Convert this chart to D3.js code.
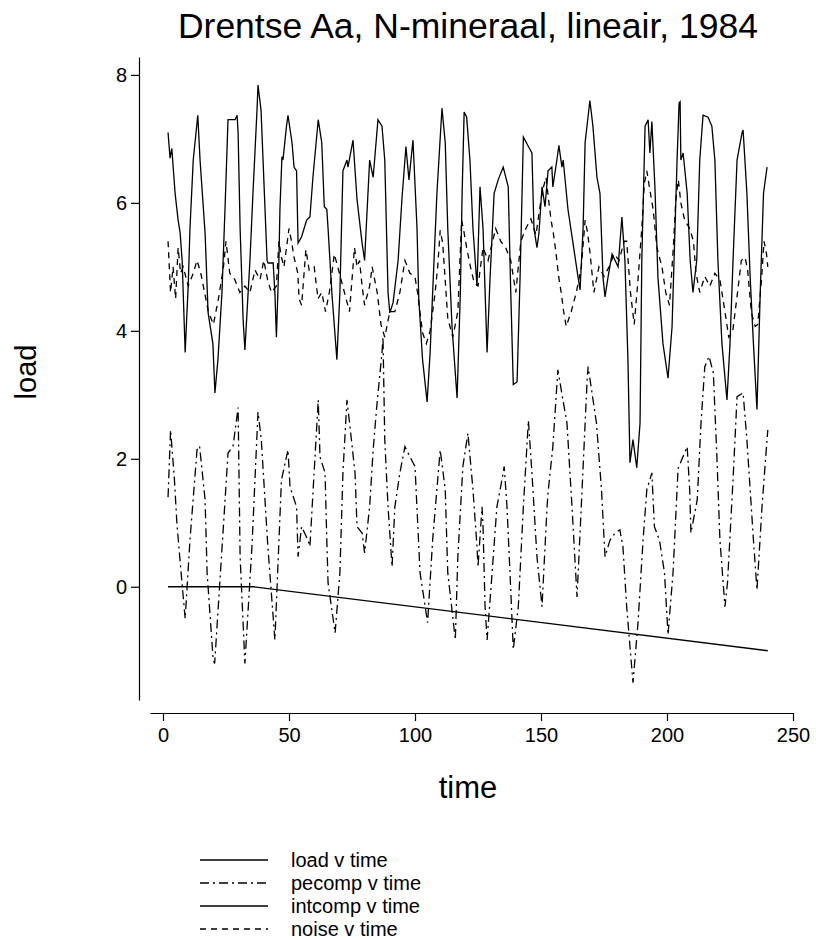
<!DOCTYPE html>
<html>
<head>
<meta charset="utf-8">
<script src="https://cdn.jsdelivr.net/npm/d3@7"></script>
<style>
    body { margin: 0; background: #fff; }
    svg { display: block; font-family: "Liberation Sans", Arial, sans-serif; }
    .axis path, .axis line { stroke: #000; stroke-width: 1.2; }
    .axis text { font-size: 20px; fill: #000; }
</style>
</head>
<body>
<div id="chart"></div>
<script>
// values
var timeTicks = [0, 50, 100, 150, 200, 250];
var loadTicks = [0, 2, 4, 6, 8];
var seriesNames = ['load v time', 'pecomp v time', 'intcomp v time', 'noise v time'];

var loadSeries = [[2,7.1],[2.8,6.7],[3.5,6.85],[4.8,6.15],[6,5.73],[6.8,5.53],[7.6,5.1],[8.8,3.66],[9.5,4.28],[10,4.7],[10.7,5.6],[12,6.67],[13.8,7.37],[14.7,6.67],[16.7,5.53],[17.9,4.28],[19.8,3.8],[20.6,3.03],[21.8,3.55],[23.4,4.6],[24.6,5.9],[25.8,7.3],[28.6,7.3],[29.4,7.37],[29.8,7.1],[30.6,5.6],[31.8,4.17],[32.5,3.7],[34.5,5.1],[35.7,6.15],[37.3,7.45],[37.7,7.84],[38.9,7.45],[39.7,6.67],[41.3,5.1],[41.7,5.06],[43.7,5.06],[44.4,4.6],[45,3.9],[46,5.1],[46.4,5.9],[47.2,6.72],[47.6,6.67],[49,7.2],[49.6,7.37],[51.2,6.94],[52,6.56],[53,6.5],[53.6,5.37],[55,5.47],[57,5.73],[58.3,5.78],[59.5,6.4],[61.6,7.3],[63,6.94],[64,5.94],[65,5.9],[65.5,5.6],[67,4.6],[69,3.55],[70.2,4.6],[71.4,6.5],[73,6.67],[73.4,6.56],[75.4,6.98],[77,6.05],[79,5.37],[80,5.1],[82,6.67],[83.4,6.4],[85.3,7.3],[86.9,7.2],[88,6.67],[89.3,4.6],[90,4.28],[91.3,4.44],[93.3,5.1],[94.8,6.05],[96.4,6.88],[97.6,6.36],[99.2,6.98],[100.8,5.6],[101.5,4.5],[103,3.55],[104.8,2.89],[106,3.66],[107,4.6],[108.7,6.15],[110.7,7.48],[112,6.94],[113,5.6],[114.7,4.06],[116.7,2.95],[118,4.6],[118.7,6.15],[119.5,7.42],[120.5,7.34],[121.8,6.67],[123,5.6],[124.6,4.7],[125.8,6.25],[127,5.6],[128.6,3.66],[129.8,4.84],[131.4,6.15],[133,6.36],[135,6.56],[137,6.25],[138,4.6],[139,3.16],[140.5,3.2],[141.7,4.84],[143,7.03],[145,6.88],[146.4,6.78],[147.2,5.6],[148.4,5.3],[149.2,5.53],[150.4,6.25],[151.6,5.94],[152.8,6.5],[154.3,6.56],[154.7,6.25],[156.3,6.67],[157.1,6.9],[158.3,6.56],[158.8,6.67],[160.7,5.9],[162.7,5.37],[164.7,4.84],[165.5,4.64],[166.7,5.6],[167.5,6.94],[169.4,7.6],[170.6,7.2],[172.2,6.4],[173.4,6.15],[174.6,4.84],[175.4,4.53],[176.6,4.84],[178.2,5.2],[179.4,5.1],[180.6,5.0],[182.1,5.78],[183.3,5.1],[184.5,3.55],[185.3,1.94],[186.5,2.3],[188,1.86],[189.3,2.56],[190,5.1],[191.3,7.2],[192.5,7.3],[193.2,6.78],[194,7.27],[195.2,6.25],[196.4,4.84],[198.4,3.8],[200.4,3.26],[202,4.06],[204,6.67],[204.8,7.56],[205.2,7.58],[205.5,6.67],[206.4,6.78],[208,6.15],[209.2,5.1],[210.3,4.6],[211.8,5.1],[213,6.67],[214.3,7.37],[216.3,7.34],[217.8,7.2],[219,6.67],[220.2,5.1],[221.8,3.8],[223.8,2.92],[225,3.8],[226.2,5.1],[227.8,6.67],[229.8,7.1],[230.2,7.14],[231.7,6.15],[233,4.84],[234.3,3.8],[235.7,2.77],[237,4.6],[238.3,6.15],[239.7,6.56]];

var pecompSeries = [[2,1.4],[3,2.45],[4.5,1.7],[5.5,1.0],[7,0.3],[8.8,-0.5],[10.7,0.73],[13.5,2.14],[14.5,2.2],[16.7,1.36],[17.5,0.22],[19.9,-1.14],[20.5,-1.2],[23.8,0.84],[25.8,2.09],[27.8,2.2],[29.8,2.8],[30.6,0.47],[32.5,-1.2],[35.3,0.63],[37.7,2.73],[39,2.3],[41.6,0.63],[44.4,-0.83],[47,1.67],[49.6,2.14],[50.4,1.56],[53,1.25],[53.6,0.47],[55,0.94],[57.5,0.73],[58.3,0.63],[61.6,2.92],[62.3,2.03],[64.3,1.78],[65,0.73],[65.5,0.06],[68.3,-0.72],[70.2,0.22],[71.4,1.78],[73,2.92],[74.2,2.5],[76.2,1.78],[77,0.94],[79,0.84],[80,0.53],[82,1.25],[83.4,2.14],[84.8,2.81],[86.9,3.66],[87.3,3.9],[88,2.3],[89.3,1.25],[90.9,0.31],[92,1.25],[94,1.78],[96,2.19],[98,2.03],[100,1.88],[102,0.22],[105,-0.56],[107,0.73],[110,2.14],[112,1.52],[113,0.22],[116,-0.83],[117,0.47],[119,1.88],[121,2.4],[123,1.52],[124.6,0.63],[125,0.31],[126.6,1.25],[127,0.94],[127.8,-0.31],[128.6,-0.83],[130.6,0.22],[132.5,1.25],[134.5,1.67],[135.4,1.88],[136.5,1.25],[137.7,0.22],[139,-0.98],[141,-0.31],[143,1.25],[145,2.6],[146.4,1.78],[148.4,0.47],[150.4,-0.31],[152.4,1.25],[152.8,1.47],[154.7,2.19],[156.7,3.39],[158.7,2.92],[160.3,2.56],[162.3,1.25],[164.3,-0.16],[166.3,1.52],[168.3,3.23],[168.7,3.44],[172,2.56],[174,1.52],[175.4,0.47],[177.4,0.73],[179.4,0.84],[181.3,0.89],[182.5,0.63],[184,-0.31],[186.5,-1.5],[188.5,-0.56],[190.5,0.73],[192,1.52],[194,1.78],[195,0.94],[197,0.73],[199,0.22],[200.4,-0.75],[202.4,0.22],[204.4,1.85],[206,2.0],[208,2.19],[209,1.52],[209.5,0.84],[212,1.36],[213.5,2.56],[215,3.44],[216.7,3.6],[218.4,3.34],[219.8,2.03],[221,0.73],[223,-0.31],[224,0.06],[226.2,1.67],[227.8,2.97],[230.2,3.03],[231.7,2.3],[233,1.52],[234.3,0.73],[235.7,-0.05],[237.7,1.25],[239,1.94],[240,2.45]];

var intcompSeries = [[2,0],[36,0],[240,-1.0]];

var noiseSeries = [[2,5.4],[3,4.6],[4,5.0],[5,4.5],[6,5.3],[7,4.9],[8,5.0],[10,4.7],[12,4.9],[13.5,5.1],[15,4.9],[16.5,4.6],[18,4.3],[20,4.1],[22,4.5],[24,5.0],[25,5.4],[26.5,4.9],[28.5,4.8],[30.5,4.6],[32.5,4.7],[34.5,4.6],[36.5,4.95],[38.5,4.8],[40,5.1],[41.5,4.8],[43,4.6],[45,4.7],[46,5.4],[47,5.15],[48,5.0],[50,5.6],[51,5.4],[52,5.15],[53.5,4.9],[54,4.5],[55,4.4],[56.7,5.27],[58,4.95],[60,5.0],[61.5,4.5],[63,4.6],[64.5,4.3],[66,4.6],[68,5.2],[70,4.9],[72,4.6],[74,4.3],[76,5.3],[77,5.0],[78,5.1],[79,4.7],[80,4.4],[82,4.7],[83,5.0],[85,4.6],[86.5,4.1],[88,3.9],[90,4.3],[92,4.3],[94,4.6],[96,5.1],[98,4.9],[100,4.84],[101,4.6],[103,3.97],[104.5,3.8],[106,4.0],[108,4.6],[109,5.0],[110,5.57],[111,5.37],[113,4.2],[115,3.9],[117,4.3],[118.5,5.73],[119.5,5.53],[120.5,5.3],[122,5.0],[123.5,4.75],[125,4.7],[127,5.3],[129,5.1],[132,5.6],[134,5.4],[136,5.3],[138,5.1],[140,4.6],[142,5.4],[144,5.6],[146,5.75],[148,5.5],[150,6.05],[151,6.25],[152,6.4],[153,6.05],[154,5.73],[155,5.5],[156,5.2],[157,4.85],[158,4.6],[159,4.3],[160,4.07],[162,4.3],[164,4.6],[166,5.0],[167.5,5.73],[168.5,5.53],[169.5,5.2],[171,4.6],[173,5.0],[175,4.85],[177,5.0],[179,5.2],[181,5.1],[183,5.4],[184,5.4],[185.5,4.6],[187,4.1],[188.5,4.8],[190,5.6],[191,6.3],[192,6.5],[193,6.25],[194.5,5.9],[196,5.3],[198,5.0],[199.5,4.6],[201,4.4],[202.5,5.3],[203.5,6.05],[204.5,6.36],[205.5,6.0],[207,5.73],[209,5.6],[210.5,5.4],[211.5,4.9],[213,4.6],[215,4.85],[217,4.7],[219,4.9],[221,4.8],[223,4.3],[224.5,3.9],[226,3.97],[228,4.6],[229.5,5.1],[231,5.15],[232,4.95],[233.5,4.28],[235,4.07],[236,4.1],[237.5,4.8],[238.5,5.4],[239.5,5.2],[240,5.0]];

(function(d3) {
    'use strict';

    var settings = {
        width: 816,
        height: 940,
        xRange: [150, 793],
        yRange: [700, 57],
        xAxisY: 713,
        yAxisX: 139,
        legend: { x1: 200, x2: 268, textX: 291, top: 860, step: 23 }
    };

    var styles = [
        { dash: null },
        { dash: '9,4,2,4' },
        { dash: null },
        { dash: '6,5' }
    ];
    var allSeries = [loadSeries, pecompSeries, intcompSeries, noiseSeries];

    var x = d3.scaleLinear().domain([-5.16, 250]).range(settings.xRange);
    var y = d3.scaleLinear().domain([-1.77, 8.28]).range(settings.yRange);

    var svg = d3.select('#chart').append('svg')
        .attr('width', settings.width)
        .attr('height', settings.height);

    svg.append('text')
        .attr('x', 468)
        .attr('y', 38)
        .attr('text-anchor', 'middle')
        .style('font-size', '35.5px')
        .text('Drentse Aa, N-mineraal, lineair, 1984');

    svg.append('g')
        .attr('class', 'axis')
        .attr('transform', 'translate(' + settings.yAxisX + ',0)')
        .call(d3.axisLeft(y).tickValues(loadTicks).tickSize(8).tickSizeOuter(0).tickPadding(4));

    svg.append('g')
        .attr('class', 'axis')
        .attr('transform', 'translate(0,' + settings.xAxisY + ')')
        .call(d3.axisBottom(x).tickValues(timeTicks).tickSize(8).tickSizeOuter(0).tickPadding(7));

    svg.append('text')
        .attr('x', 468)
        .attr('y', 798)
        .attr('text-anchor', 'middle')
        .style('font-size', '31px')
        .text('time');

    svg.append('text')
        .attr('transform', 'translate(36,372) rotate(-90)')
        .attr('text-anchor', 'middle')
        .style('font-size', '29px')
        .text('load');

    var line = d3.line()
        .x(function(d) { return x(d[0]); })
        .y(function(d) { return y(d[1]); });

    svg.selectAll('.series')
        .data(allSeries)
        .enter()
        .append('path')
        .attr('class', 'series')
        .attr('d', line)
        .attr('fill', 'none')
        .attr('stroke', '#000')
        .attr('stroke-width', 1.3)
        .attr('stroke-dasharray', function(d, i) { return styles[i].dash; });

    var legend = svg.selectAll('.legend')
        .data(seriesNames)
        .enter()
        .append('g')
        .attr('class', 'legend')
        .attr('transform', function(d, i) {
            return 'translate(0,' + (settings.legend.top + i * settings.legend.step) + ')';
        });

    legend.append('line')
        .attr('x1', settings.legend.x1)
        .attr('x2', settings.legend.x2)
        .attr('stroke', '#000')
        .attr('stroke-width', 1.3)
        .attr('stroke-dasharray', function(d, i) { return styles[i].dash; });

    legend.append('text')
        .attr('x', settings.legend.textX)
        .attr('y', 7)
        .style('font-size', '20px')
        .text(function(d) { return d; });

})(window.d3);
</script>
</body>
</html>
